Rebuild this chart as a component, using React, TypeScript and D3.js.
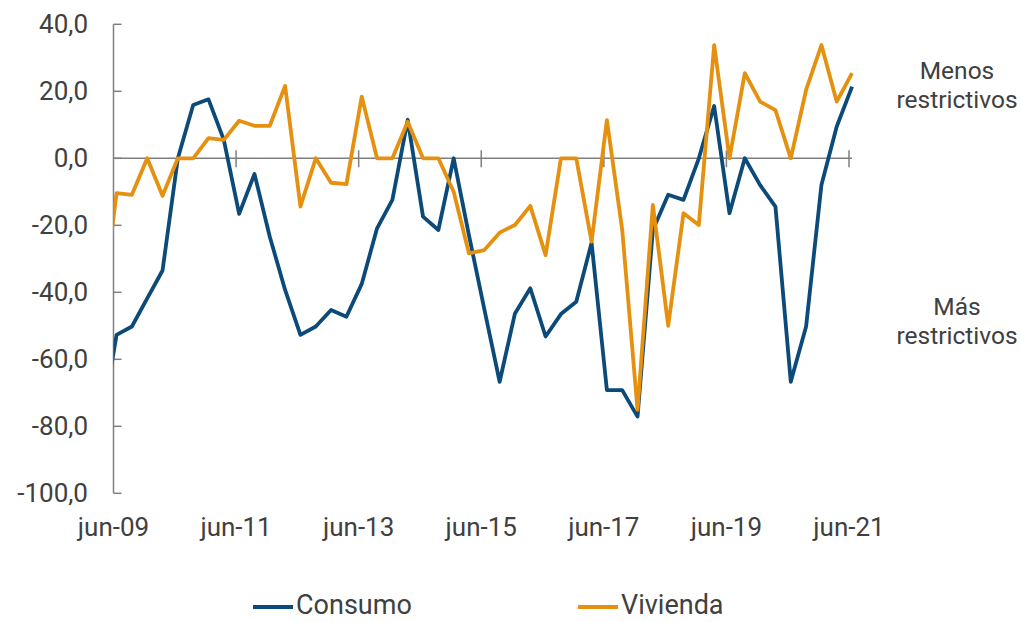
import React from "react";
import * as d3 from "d3";

// Quarterly series, mar-09 .. jun-21 (first point falls before the axis start and is clipped)
const quarters: string[] = (() => {
  const out: string[] = [];
  const months = ["mar", "jun", "sep", "dic"];
  for (let y = 2009; y <= 2021; y++) {
    for (let q = 0; q < 4; q++) {
      if (y === 2021 && q > 1) break;
      out.push(`${months[q]}-${String(y % 100).padStart(2, "0")}`);
    }
  }
  return out;
})();

const consumo: number[] = [
  -80, -52.7, -50.2, -41.8, -33.5, 0, 15.9, 17.6, 5.5, -16.6, -4.7, -23.4, -39.3,
  -52.7, -50.2, -45.3, -47.3, -37.5, -20.9, -12.4, 11.5, -17.4, -21.4, 0, -23,
  -45, -66.7, -46.3, -38.8, -53.2, -46.5, -42.8, -25.2, -69.2, -69.2, -77.1,
  -21.4, -10.9, -12.4, 0, 15.6, -16.4, 0, -8, -14.4, -66.7, -50.2, -8, 9.5, 21.4,
];

const vivienda: number[] = [
  -47, -10.4, -10.9, 0, -11.2, 0, 0, 6, 5.5, 11.2, 9.7, 9.7, 21.6, -14.4, 0,
  -7.3, -7.7, 18.4, 0, 0, 10.9, 0, 0, -10, -28.4, -27.4, -22.2, -19.9, -14.2,
  -28.9, 0, 0, -24.9, 11.4, -21.4, -75.1, -13.9, -50, -16.4, -19.9, 33.8, 0,
  25.4, 16.9, 14.4, 0, 20.4, 33.8, 16.9, 25.4,
];

const xTickLabels: string[] = ["jun-09", "jun-11", "jun-13", "jun-15", "jun-17", "jun-19", "jun-21"];
const yTickValues: number[] = [40, 20, 0, -20, -40, -60, -80, -100];
const seriesNames: string[] = ["Consumo", "Vivienda"];
const annotationTop: string[] = ["Menos", "restrictivos"];
const annotationBottom: string[] = ["Más", "restrictivos"];

const COLORS = ["#0c4a79", "#e5900f"];
const AXIS = "#7f7f7f";
const TEXT = "#404040";
const FONT = "Roboto, 'Noto Sans', sans-serif";

const W = 1021;
const H = 622;
const tickOffset = 0.2; // ticks sit slightly before the quarter points

export default function App() {
  // index 0 = jun-09
  const firstIdx = quarters.indexOf("jun-09");
  const idx = (i: number) => i - firstIdx;

  const x = d3.scaleLinear().domain([-tickOffset, 48 - tickOffset]).range([113.5, 849]);
  const y = d3.scaleLinear().domain([-100, 40]).range([493.3, 24.3]);

  const locale = d3.formatLocale({
    decimal: ",",
    thousands: ".",
    grouping: [3],
    currency: ["", "€"],
    minus: "-",
  });
  const fmt = locale.format(".1f");

  const line = d3
    .line<number>()
    .x((_, i) => x(idx(i)))
    .y((d) => y(d));

  const y0 = y(0);
  const xTickIdx = xTickLabels.map((_, i) => i * 8 - tickOffset);

  return (
    <svg
      width={W}
      height={H}
      style={{ position: "absolute", left: 0, top: 0, background: "#fff" }}
      fontFamily={FONT}
    >
      <defs>
        <clipPath id="plotClip">
          <rect x={x(-tickOffset)} y={0} width={W - x(-tickOffset)} height={H} />
        </clipPath>
      </defs>

      {/* y axis */}
      <line x1={x(-tickOffset)} x2={x(-tickOffset)} y1={y(40)} y2={y(-100)} stroke={AXIS} strokeWidth={1.5} />
      {yTickValues.map((v) => (
        <g key={v}>
          <line x1={x(-tickOffset)} x2={x(-tickOffset) + 8} y1={y(v)} y2={y(v)} stroke={AXIS} strokeWidth={1.5} />
          <text x={88} y={y(v)} dy="0.35em" textAnchor="end" fontSize={26} fill={TEXT}>
            {fmt(v)}
          </text>
        </g>
      ))}

      {/* x axis at zero */}
      <line x1={x(-tickOffset)} x2={x(48 - tickOffset) + 3} y1={y0} y2={y0} stroke={AXIS} strokeWidth={1.5} />
      {xTickIdx.map((t, i) => (
        <g key={i}>
          {i > 0 && <line x1={x(t)} x2={x(t)} y1={y0 - 8} y2={y0 + 9} stroke={AXIS} strokeWidth={1.5} />}
          <text x={x(t)} y={536} textAnchor="middle" fontSize={26} fill={TEXT}>
            {xTickLabels[i]}
          </text>
        </g>
      ))}

      {/* series */}
      <g clipPath="url(#plotClip)">
        <path d={line(consumo) || ""} fill="none" stroke={COLORS[0]} strokeWidth={3.8} strokeLinejoin="round" />
        <path d={line(vivienda) || ""} fill="none" stroke={COLORS[1]} strokeWidth={3.8} strokeLinejoin="round" />
      </g>

      {/* annotations */}
      {annotationTop.map((s, i) => (
        <text key={"t" + i} x={957} y={79 + i * 29} textAnchor="middle" fontSize={24.5} fill={TEXT}>
          {s}
        </text>
      ))}
      {annotationBottom.map((s, i) => (
        <text key={"b" + i} x={957} y={315 + i * 29} textAnchor="middle" fontSize={24.5} fill={TEXT}>
          {s}
        </text>
      ))}

      {/* legend */}
      {seriesNames.map((name, i) => {
        const lx = 253 + i * 325;
        return (
          <g key={name}>
            <line x1={lx} x2={lx + 40} y1={607} y2={607} stroke={COLORS[i]} strokeWidth={4} />
            <text x={lx + 43} y={614} fontSize={27} fill={TEXT}>
              {name}
            </text>
          </g>
        );
      })}
    </svg>
  );
}
